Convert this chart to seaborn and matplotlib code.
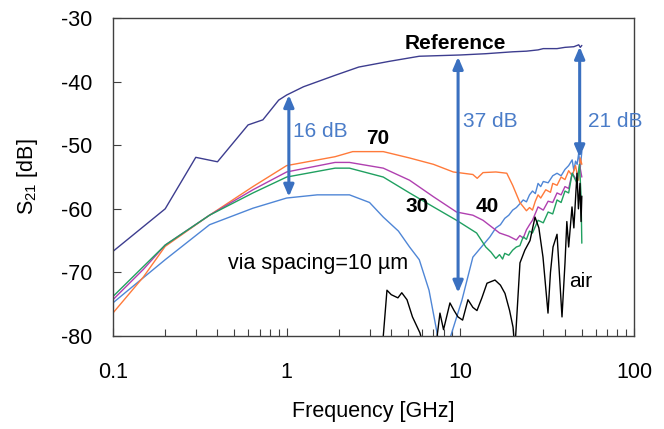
import numpy as np
import pandas as pd
import matplotlib
matplotlib.use('Agg')
import matplotlib.pyplot as plt
import seaborn as sns

# ---- data ----
ref_f = [0.1, 0.2, 0.3, 0.4, 0.6, 0.73, 0.9, 1.0, 1.25, 1.9, 2.6, 3.9, 5.8, 10, 14, 20, 24, 28, 30, 36, 40, 45, 48, 49, 50]
ref_db = [-66.7, -60, -51.9, -52.6, -46.8, -46, -42.9, -42.1, -40.8, -39, -37.7, -36.8, -36, -35.8, -35.6, -35.3, -35.2, -35.0, -34.8, -34.8, -34.6, -34.5, -34.2, -34.6, -34.3]

s10_f = [0.1, 0.12, 0.2, 0.36, 0.64, 1.0, 1.5, 2.3, 3.0, 3.6, 4.4, 5.1, 5.8, 6.6, 7.4, 8.0, 8.8, 10.2, 11.8, 14.8, 16, 17, 18, 19, 20, 21, 22, 23, 24, 25, 26, 27, 28, 29, 30, 32, 34, 36, 38, 40, 42, 44, 45, 46, 47, 48, 49, 50]
s10_db = [-74.8, -73, -68, -62.5, -59.9, -58.3, -57.8, -57.8, -59, -61.3, -63.5, -66, -68, -72.8, -80, -84, -80, -74.4, -67.6, -64.4, -63.0, -62.5, -61.5, -61, -60.2, -59.8, -59.2, -58.6, -58.9, -57.8, -57.2, -57.6, -56, -56.5, -55.7, -55.9, -54.8, -54.4, -54.8, -53.8, -53.2, -52.3, -54, -52.5, -53, -51.2, -53.5, -51]

s70_f = [0.1, 0.15, 0.2, 0.36, 0.64, 1.0, 1.9, 2.4, 3.6, 5.1, 7, 9.1, 11.8, 12.5, 13.5, 16, 18.5, 20, 22, 24, 25, 26, 27, 28, 29, 31, 33, 34, 36, 38, 40, 42, 44, 46, 47, 48, 49, 50]
s70_db = [-76.4, -70.7, -65.9, -61, -56.5, -53.2, -51.8, -51, -51, -52, -53, -54.2, -54.6, -55.2, -54.3, -54.2, -54.4, -56.3, -59, -60.3, -59.8, -60.2, -58.8, -57.8, -58.3, -57, -57.4, -56, -56.3, -55, -55.4, -54, -54.8, -53.2, -54.5, -55.5, -52, -53]

s40_f = [0.1, 0.15, 0.2, 0.36, 0.64, 1.0, 1.9, 2.3, 3.6, 5.1, 7, 9.5, 11.8, 13.5, 16.8, 19, 21, 22, 23, 24, 25, 26, 28, 30, 32, 34, 36, 38, 40, 42, 44, 46, 47, 48.5, 50]
s40_db = [-74.3, -69.5, -65.7, -61, -57, -54.2, -52.7, -52.7, -53.6, -55.5, -58.1, -60.5, -61, -61.8, -63.8, -64.3, -64.9, -64.2, -64.6, -63.3, -62.5, -61.8, -59.7, -60.2, -58.8, -59.0, -57.5, -57.8, -56.5, -56.8, -54.4, -55.2, -55.5, -53, -55]

s30_f = [0.1, 0.2, 0.36, 0.64, 1.0, 1.9, 2.3, 3.6, 5.1, 7, 9.5, 12.4, 14, 15, 16, 16.8, 17.5, 18, 19, 20, 21, 22, 23, 24, 25, 26, 28, 30, 32, 34, 36, 38, 40, 42, 44, 46, 47, 48.5, 49.5, 50]
s30_db = [-73.8, -65.7, -61, -57.5, -55, -53.6, -53.6, -55, -57.5, -59.7, -61.8, -63.8, -66, -66.8, -67.8, -67.2, -67.9, -67.0, -67.3, -66.5, -66.0, -65.8, -64.4, -64.8, -63.5, -63.8, -61.8, -62.2, -60.5, -60.8, -58.6, -59.0, -57.2, -57.5, -54.4, -55.5, -56, -53, -58, -65.4]

air_f = [3.5, 3.6, 3.78, 4.0, 4.37, 4.6, 4.93, 5.3, 5.85, 6.2, 7.2, 7.63, 8.0, 8.71, 9.2, 9.69, 10.3, 11.06, 11.8, 12.46, 13.3, 14.23, 15.82, 17.0, 18.06, 19.2, 20.09, 20.6, 22.03, 23.5, 25.16, 26.89, 28.3, 29.89, 31.94, 33, 34.14, 36, 38.45, 40.01, 41, 42, 43.9, 45, 46.9, 47.8, 48.8, 49.5, 50]
air_db = [-82, -80, -72.8, -73.5, -74, -73.2, -74.3, -77, -79.5, -82, -82, -76.4, -79, -74.8, -76, -77, -77.5, -74.3, -75.5, -76, -74, -71.7, -71.2, -72, -73.3, -76, -78.6, -82, -68.5, -66.5, -65, -61.3, -63, -67.6, -76.4, -70, -66, -64, -77, -68.5, -62, -66, -59.7, -63, -54.4, -60, -56, -62, -58]

arrow_f = [1.03, 9.7, 48.6]
arrow_top = [-42.1, -36.1, -34.5]
arrow_bot = [-58.1, -73.2, -51.9]
arrow_txt = ['16 dB', '37 dB', '21 dB']
arrow_txt_f = [1.09, 10.3, 54.3]
arrow_txt_db = [-47.9, -46.2, -46.2]

series = [
    (ref_f, ref_db, '#3d3d8f'),
    (s10_f, s10_db, '#4f86d6'),
    (s70_f, s70_db, '#ff7a3a'),
    (s40_f, s40_db, '#b040b0'),
    (s30_f, s30_db, '#20a060'),
    (air_f, air_db, '#000000'),
]

sns.set_style('ticks')
plt.rcParams['font.family'] = ['Liberation Sans', 'DejaVu Sans']
plt.rcParams['mathtext.fontset'] = 'custom'
plt.rcParams['mathtext.rm'] = 'Liberation Sans'
plt.rcParams['axes.unicode_minus'] = False
plt.rcParams['text.color'] = 'black'
plt.rcParams['axes.labelcolor'] = 'black'

fig = plt.figure(figsize=(6.64, 4.29), dpi=100)
ax = fig.add_axes([0.170, 0.2168, 0.785, 0.741])

for f, db, c in series:
    df = pd.DataFrame({'f': f, 'db': db})
    sns.lineplot(data=df, x='f', y='db', color=c, lw=1.0, estimator=None, ax=ax)

ax.set_xscale('log')
ax.set_xlim(0.1, 100)
ax.set_ylim(-80, -30)
ax.set_xticks([0.1, 1, 10, 100], labels=['0.1', '1', '10', '100'])
ax.set_yticks([-80, -70, -60, -50, -40, -30])
ax.tick_params(axis='both', which='both', direction='in', colors='#404040',
               labelcolor='black', labelsize=15.5, width=0.8)
ax.tick_params(axis='x', which='major', length=6, pad=19)
ax.tick_params(axis='x', which='minor', length=5)
ax.tick_params(axis='y', length=6, pad=15)
for sp in ax.spines.values():
    sp.set_color('#404040')
    sp.set_linewidth(1.0)

ax.set_xlabel('Frequency [GHz]', fontsize=15.5, color='black')
ax.set_ylabel(r'S$\mathregular{_{21}}$ [dB]', fontsize=15.5, color='black')
ax.xaxis.set_label_coords(0.5, -0.205)
ax.yaxis.set_label_coords(-0.14, 0.5)

for f, t, b in zip(arrow_f, arrow_top, arrow_bot):
    ax.annotate('', xy=(f, t), xytext=(f, b),
                arrowprops=dict(arrowstyle='<|-|>,head_length=0.7,head_width=0.3',
                                color='#3a70c0', lw=2.2, shrinkA=0, shrinkB=0))
for t, f, d in zip(arrow_txt, arrow_txt_f, arrow_txt_db):
    ax.text(f, d, t, color='#4a7cc8', fontsize=15, ha='left', va='center')

ax.text(4.8, -34.0, 'Reference', fontsize=15, fontweight='bold', ha='left', va='center')
ax.text(3.35, -49.0, '70', fontsize=15, fontweight='bold', ha='center', va='center')
ax.text(5.66, -59.6, '30', fontsize=15, fontweight='bold', ha='center', va='center')
ax.text(14.3, -59.6, '40', fontsize=15, fontweight='bold', ha='center', va='center')
ax.text(0.459, -68.6, 'via spacing=10 µm', fontsize=15.5, ha='left', va='center')
ax.text(42.2, -71.5, 'air', fontsize=15, ha='left', va='center')

fig.savefig('out.png', dpi=100)
